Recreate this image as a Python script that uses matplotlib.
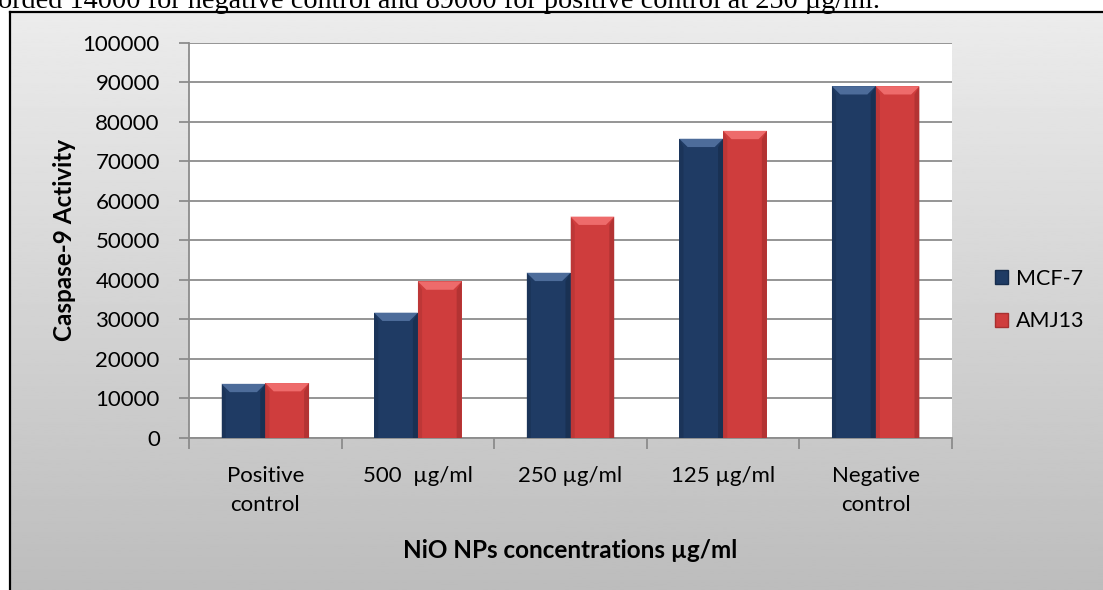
import numpy as np
import matplotlib.pyplot as plt
from matplotlib.patches import Patch, Polygon

# data
categories = ['Positive\ncontrol', '500  µg/ml', '250 µg/ml', '125 µg/ml', 'Negative\ncontrol']
mcf7 = [13700, 31700, 41800, 75700, 89000]
amj13 = [13900, 39600, 56000, 77700, 89000]
series_names = ['MCF-7', 'AMJ13']

W, H = 1103, 590
fig = plt.figure(figsize=(W / 100, H / 100), dpi=100)
fig.patch.set_facecolor('white')
plt.rcParams['font.family'] = ['Lato', 'DejaVu Sans']

# document text cut off above the chart
fig.text(-2 / W, 1 - 8 / H,
         'orded 14000 for negative control and 89000 for positive control at 250 µg/ml.',
         fontsize=20.3, family='Liberation Serif', va='baseline', ha='left')

# chart area with gradient
bg = fig.add_axes([10 / W, 0, 1 - 10 / W, (H - 12) / H], zorder=0)
grad = np.linspace(0.925, 0.74, 256).reshape(-1, 1)
bg.imshow(grad, cmap='gray', vmin=0, vmax=1, aspect='auto', extent=[0, 1, 0, 1])
bg.set_xticks([])
bg.set_yticks([])
for s in ['right', 'bottom']:
    bg.spines[s].set_visible(False)
for s in ['left', 'top']:
    bg.spines[s].set_color('black')
    bg.spines[s].set_linewidth(1.6)

ax = fig.add_axes([189 / W, (H - 438) / H, (952 - 189) / W, (438 - 42.7) / H], zorder=1)
ax.set_facecolor('white')

x = np.arange(len(categories))
bw = 0.287
navy = '#1f3b64'
red = '#cf3d3d'
b1 = ax.bar(x - bw / 2, mcf7, bw, color=navy, zorder=3)
b2 = ax.bar(x + bw / 2, amj13, bw, color=red, zorder=3)

ax.set_xlim(-0.5, len(categories) - 0.5)
ax.set_ylim(0, 100000)

# bevel look on each bar
dx = 0.055
dy = 2100
for bars, top_c, side_c in [(b1, '#4d6c9a', '#172d4d'), (b2, '#ee6b6b', '#a83030')]:
    for p in bars:
        x0, w, h = p.get_x(), p.get_width(), p.get_height()
        x1 = x0 + w
        ax.add_patch(Polygon([(x0, h), (x1, h), (x1 - dx, h - dy), (x0 + dx, h - dy)],
                             closed=True, color=top_c, lw=0, zorder=4))
        ax.add_patch(Polygon([(x0, 0), (x0, h), (x0 + dx * 0.5, h - dy), (x0 + dx * 0.5, 0)],
                             closed=True, color=side_c, alpha=0.45, lw=0, zorder=4))
        ax.add_patch(Polygon([(x1, 0), (x1, h), (x1 - dx * 0.6, h - dy), (x1 - dx * 0.6, 0)],
                             closed=True, color=side_c, alpha=0.7, lw=0, zorder=4))

ax.set_yticks(np.arange(0, 100001, 10000))
ax.yaxis.grid(True, color='#8c8c8c', lw=1.3, zorder=1)
ax.set_axisbelow(True)
ax.tick_params(axis='y', length=7, color='#8c8c8c', width=1.3, labelsize=16, pad=14)

ax.set_xticks(x)
ax.set_xticklabels(categories, fontsize=16, linespacing=1.6)
ax.set_xticks(np.arange(-0.5, len(categories), 1), minor=True)
ax.tick_params(axis='x', which='major', length=0, pad=20)
ax.tick_params(axis='x', which='minor', length=8, color='#8c8c8c', width=1.3)

for s in ['top', 'right']:
    ax.spines[s].set_visible(False)
for s in ['left', 'bottom']:
    ax.spines[s].set_color('#8c8c8c')
    ax.spines[s].set_linewidth(1.3)

ax.set_ylabel('Caspase-9 Activity', fontsize=17.5, fontweight='bold', labelpad=5)
ax.set_xlabel('NiO NPs concentrations µg/ml', fontsize=17.5, fontweight='bold', labelpad=17)

handles = [Patch(facecolor=navy, edgecolor='#172d4d'), Patch(facecolor=red, edgecolor='#a83030')]
fig.legend(handles, series_names, loc='center left', bbox_to_anchor=(986 / W, 1 - 300 / H),
           frameon=False, fontsize=15.5, handlelength=0.6, handleheight=0.6,
           handletextpad=0.4, labelspacing=1.05, borderaxespad=0)

fig.savefig('out.png', dpi=100)
